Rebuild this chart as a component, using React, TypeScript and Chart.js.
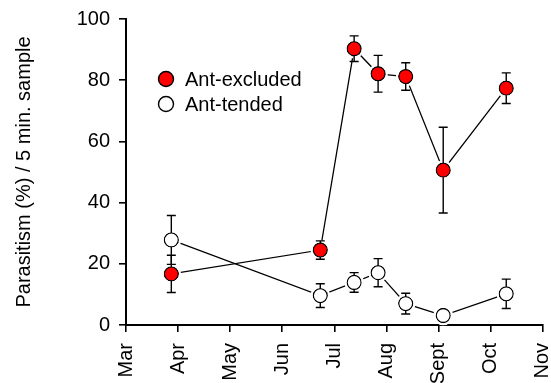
import React, { useEffect, useRef } from 'react';
import { Chart, registerables } from 'chart.js';

Chart.register(...registerables);

const monthLabels = ['Mar', 'Apr', 'May', 'Jun', 'Jul', 'Aug', 'Sept', 'Oct', 'Nov'];
// sampling dates, in months after 1 March
const sampleMonths = [0.87, 3.73, 4.38, 4.84, 5.37, 6.09, 7.3];
const antExcluded = [16.7, 24.5, 90.3, 82.1, 81.2, 50.6, 77.4];
const antExcludedErr = [6.1, 3.0, 4.2, 6.0, 4.5, 14.0, 5.0];
const antTended = [27.8, 9.6, 13.9, 17.1, 7.0, 3.1, 10.2];
const antTendedErr = [8.0, 3.9, 3.2, 4.6, 3.4, 0, 4.8];
const legendLabels = ['Ant-excluded', 'Ant-tended'];
const seriesColors = ['#ff0000', '#ffffff'];

const FONT = '"Liberation Sans", Arial, sans-serif';
const FS = 20;
const R = 7;

const errorBarPlugin = {
  id: 'errorBarsAndLegend',
  afterDatasetsDraw(chart: any) {
    const ctx = chart.ctx as CanvasRenderingContext2D;
    const yScale = chart.scales.y;
    const errs = [antExcludedErr, antTendedErr];
    ctx.save();
    // white halos around markers (gap between line and marker)
    chart.data.datasets.forEach((_ds: any, i: number) => {
      const meta = chart.getDatasetMeta(i);
      meta.data.forEach((pt: any) => {
        ctx.beginPath();
        ctx.arc(pt.x, pt.y, 9.8, 0, Math.PI * 2);
        ctx.moveTo(pt.x + R + 0.7, pt.y);
        ctx.arc(pt.x, pt.y, R + 0.7, 0, Math.PI * 2, true);
        ctx.fillStyle = '#fff';
        ctx.fill('evenodd');
      });
    });
    // error bars
    ctx.strokeStyle = '#000';
    ctx.lineWidth = 1.4;
    chart.data.datasets.forEach((ds: any, i: number) => {
      const meta = chart.getDatasetMeta(i);
      meta.data.forEach((pt: any, j: number) => {
        const v = ds.data[j].y;
        const e = errs[i][j];
        if (!e) return;
        const top = yScale.getPixelForValue(v + e);
        const bot = yScale.getPixelForValue(v - e);
        ctx.beginPath();
        if (top < pt.y - R) {
          ctx.moveTo(pt.x, top);
          ctx.lineTo(pt.x, pt.y - R);
          ctx.moveTo(pt.x - 4.5, top);
          ctx.lineTo(pt.x + 4.5, top);
        }
        if (bot > pt.y + R) {
          ctx.moveTo(pt.x, pt.y + R);
          ctx.lineTo(pt.x, bot);
          ctx.moveTo(pt.x - 4.5, bot);
          ctx.lineTo(pt.x + 4.5, bot);
        }
        ctx.stroke();
      });
    });
    // legend
    const lx = 166;
    const ly = [79, 104];
    legendLabels.forEach((lab, i) => {
      ctx.beginPath();
      ctx.arc(lx, ly[i], 7.5, 0, Math.PI * 2);
      ctx.fillStyle = seriesColors[i];
      ctx.fill();
      ctx.lineWidth = 1.4;
      ctx.strokeStyle = '#000';
      ctx.stroke();
      ctx.fillStyle = '#000';
      ctx.font = `${FS}px ${FONT}`;
      ctx.textBaseline = 'middle';
      ctx.textAlign = 'left';
      ctx.fillText(lab, 185, ly[i] + 1);
    });
    ctx.restore();
  },
};

export default function App() {
  const ref = useRef<HTMLCanvasElement>(null);
  useEffect(() => {
    document.body.style.margin = '0';
    const canvas = ref.current!;
    const mk = (vals: number[]) => vals.map((v, i) => ({ x: sampleMonths[i], y: v }));
    const chart = new Chart(canvas, {
      type: 'line',
      data: {
        datasets: [
          {
            label: legendLabels[0],
            data: mk(antExcluded),
            borderColor: '#000',
            borderWidth: 1.3,
            pointRadius: R,
            pointBackgroundColor: seriesColors[0],
            pointBorderColor: '#000',
            pointBorderWidth: 1.3,
            tension: 0,
          },
          {
            label: legendLabels[1],
            data: mk(antTended),
            borderColor: '#000',
            borderWidth: 1.3,
            pointRadius: R,
            pointBackgroundColor: seriesColors[1],
            pointBorderColor: '#000',
            pointBorderWidth: 1.3,
            tension: 0,
          },
        ],
      },
      options: {
        responsive: false,
        animation: false,
        layout: { padding: { top: 19, right: 6, left: 0, bottom: 0 } },
        plugins: { legend: { display: false }, tooltip: { enabled: false } },
        scales: {
          x: {
            type: 'linear',
            min: 0,
            max: monthLabels.length - 1,
            ticks: {
              stepSize: 1,
              autoSkip: false,
              maxRotation: 90,
              minRotation: 90,
              padding: 11,
              color: '#000',
              font: { family: FONT, size: FS },
              callback: (v: any) => monthLabels[v] ?? '',
            },
            grid: { drawOnChartArea: false, tickLength: 7, color: '#000', lineWidth: 1.6 },
            border: { color: '#000', width: 2 },
            afterFit: (s: any) => {
              s.height = 58;
              s.paddingLeft = 0;
              s.paddingRight = 0;
            },
          },
          y: {
            min: 0,
            max: 100,
            ticks: {
              stepSize: 20,
              padding: 9,
              color: '#000',
              font: { family: FONT, size: FS },
            },
            grid: { drawOnChartArea: false, tickLength: 7, color: '#000', lineWidth: 1.6 },
            border: { color: '#000', width: 2 },
            title: {
              display: true,
              text: 'Parasitism (%) / 5 min. sample',
              color: '#000',
              font: { family: FONT, size: FS },
              padding: { top: 12, bottom: 0 },
            },
            afterFit: (s: any) => {
              s.width = 126;
              s.paddingTop = 0;
              s.paddingBottom = 0;
            },
          },
        },
      },
      plugins: [errorBarPlugin],
    });
    return () => chart.destroy();
  }, []);
  return (
    <div style={{ position: 'absolute', left: 0, top: 0, width: 551, height: 383 }}>
      <canvas ref={ref} width={551} height={383} />
    </div>
  );
}
